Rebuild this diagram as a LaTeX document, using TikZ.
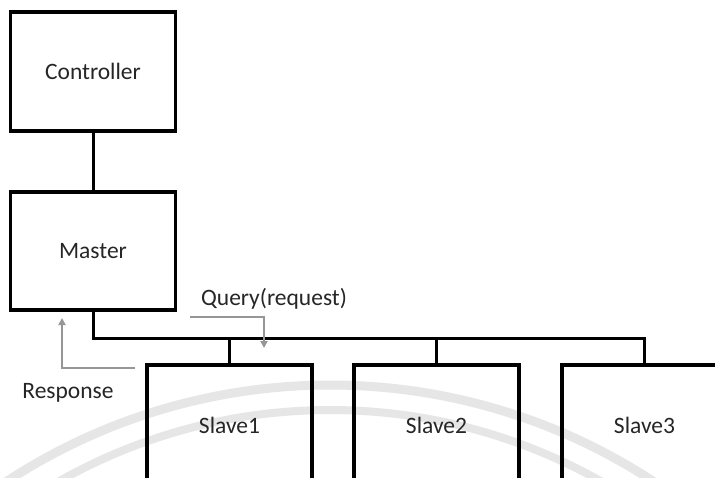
\documentclass[tikz,border=0pt]{standalone}
\usepackage{fontspec}
\setmainfont{Carlito}
\usetikzlibrary{arrows.meta}
\definecolor{sealgray}{RGB}{230,230,230}
\definecolor{flowgray}{RGB}{150,150,150}
\tikzset{
  block/.style={draw=black, line width=3.2pt, minimum width=165pt, inner sep=0pt},
  link/.style={draw=black, line width=3pt},
  flow/.style={draw=flowgray, line width=2pt, -{Triangle[width=7pt,length=7pt]}},
  label/.style={font=\fontsize{23.5}{26}\selectfont, text=black!85}
}
\begin{document}
\begin{tikzpicture}[x=1pt, y=-1pt]
  \useasboundingbox (0,0) rectangle (715,477);
  \clip (0,0) rectangle (715,477);
  \fill[white] (0,0) rectangle (715,477);
  % faint seal in the background
  \draw[sealgray, line width=9pt] (330,975) ++(230:590) arc[start angle=230, end angle=310, radius=590];
  \draw[sealgray, line width=8pt] (330,960) ++(230:550) arc[start angle=230, end angle=310, radius=550];

  % boxes
  \node[block, minimum height=119pt] (ctrl) at (93,71.5) {};
  \node[label] at (ctrl.center) {Controller};
  \node[block, minimum height=118pt] (master) at (93,251) {};
  \node[label] at (master.center) {Master};
  \node[block, minimum height=120pt] (s1) at (229.5,425) {};
  \node[label] at (s1.center) {Slave1};
  \node[block, minimum height=120pt] (s2) at (436.5,425) {};
  \node[label] at (s2.center) {Slave2};
  \node[block, minimum height=120pt] (s3) at (644.5,425) {};
  \node[label] at (s3.center) {Slave3};

  % controller to master
  \draw[link] (ctrl.south) -- (master.north);

  % shared bus from the master to the slaves
  \coordinate (busL) at (master.south |- 0,338);
  \coordinate (busR) at (s3.north |- 0,338);
  \draw[link, line join=miter] (master.south) -- (busL) -- (busR) -- (s3.north);
  \draw[link] (s1.north |- busL) -- (s1.north);
  \draw[link] (s2.north |- busL) -- (s2.north);

  % request and response flows
  \node[label, anchor=center] (query) at (274,299) {Query(request)};
  \node[label, anchor=center] (resp) at (68,393) {Response};
  \coordinate (qa) at (190,317);
  \coordinate (qb) at (264,317);
  \coordinate (qc) at (264,348);
  \draw[flow] (qa) -- (qb) -- (qc);
  \coordinate (ra) at (135,368);
  \coordinate (rb) at (62,368);
  \coordinate (rc) at (62,318);
  \draw[flow] (ra) -- (rb) -- (rc);
\end{tikzpicture}
\end{document}
